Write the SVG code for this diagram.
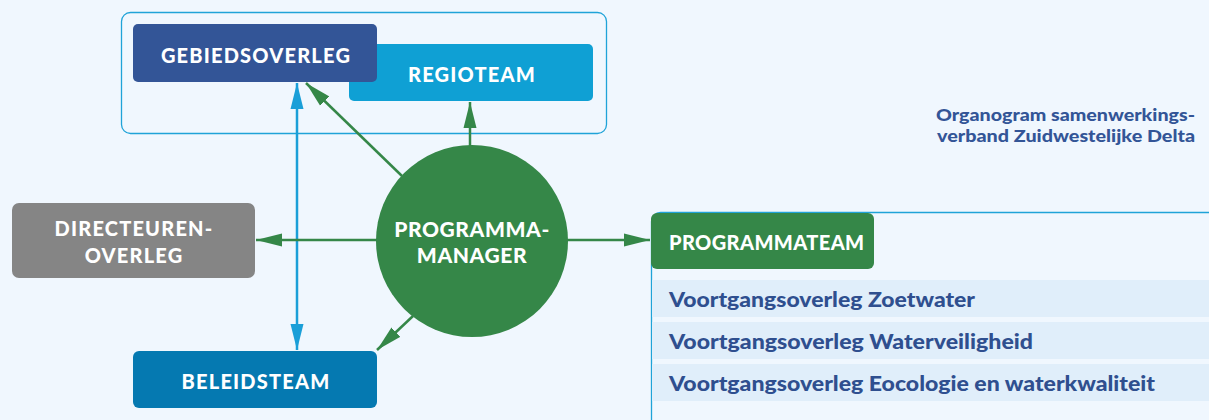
<svg xmlns="http://www.w3.org/2000/svg" width="1209" height="420" viewBox="0 0 1209 420">
<defs>
<style>
.hd{font-family:Lato,"Liberation Sans",sans-serif;font-weight:900;font-size:20px;fill:#fff;text-anchor:middle;letter-spacing:1.2px}
.row{font-family:Lato,"Liberation Sans",sans-serif;font-weight:900;font-size:20px;fill:#2f4f8f}
.g{stroke:#358748;stroke-width:2.5;fill:none}
.b{stroke:#1a9fd8;stroke-width:2.5;fill:none}
.title{font-family:Lato,"Liberation Sans",sans-serif;font-weight:900;font-size:17.5px;fill:#335597;text-anchor:end}
</style>
<marker id="ag" viewBox="0 0 20 10" refX="20" refY="5" markerWidth="10.4" markerHeight="5.6" orient="auto"><path d="M0,0 L20,5 L0,10 z" fill="#358748"/></marker>
<marker id="ab" viewBox="0 0 20 10" refX="20" refY="5" markerWidth="10.4" markerHeight="5.6" orient="auto-start-reverse"><path d="M0,0 L20,5 L0,10 z" fill="#1a9fd8"/></marker>
</defs>
<rect width="1209" height="420" fill="#f0f7fe"/>
<rect x="121.5" y="12.5" width="485" height="121" rx="9" fill="none" stroke="#1fa3d8" stroke-width="1.3"/>
<rect x="651.5" y="212.5" width="570" height="220" rx="9" fill="none" stroke="#1fa3d8" stroke-width="1.3"/>
<g id="connectors">
<line class="b" x1="297" y1="83" x2="297" y2="350" marker-start="url(#ab)" marker-end="url(#ab)"/>
<line class="g" x1="402" y1="176" x2="306" y2="83" marker-end="url(#ag)"/>
<line class="g" x1="470" y1="146" x2="470" y2="102" marker-end="url(#ag)"/>
<line class="g" x1="377" y1="240" x2="256" y2="240" marker-end="url(#ag)"/>
<line class="g" x1="567" y1="240" x2="650" y2="240" marker-end="url(#ag)"/>
<line class="g" x1="413" y1="316" x2="377" y2="350" marker-end="url(#ag)"/>
</g>
<g id="regioteam"><rect x="349" y="44" width="244" height="57" rx="5" fill="#0fa0d4"/><text class="hd" x="472" y="82">REGIOTEAM</text></g>
<g id="gebiedsoverleg"><rect x="133" y="24" width="244" height="58" rx="5" fill="#335597"/><text class="hd" x="256" y="63">GEBIEDSOVERLEG</text></g>
<g id="directeurenoverleg"><rect x="12" y="203" width="243" height="75" rx="7" fill="#858585"/><text class="hd" x="134" y="236">DIRECTEUREN-</text><text class="hd" x="134" y="263">OVERLEG</text></g>
<g id="programmamanager"><circle cx="472" cy="241" r="96" fill="#358748"/><text class="hd" x="472" y="237" style="font-size:21px;letter-spacing:0.6px">PROGRAMMA-</text><text class="hd" x="472" y="263" style="font-size:21px;letter-spacing:0.6px">MANAGER</text></g>
<g id="beleidsteam"><rect x="133" y="351" width="244" height="57" rx="6" fill="#0579b1"/><text class="hd" x="256" y="389">BELEIDSTEAM</text></g>
<g id="programmateam">
<rect x="652" y="280" width="557" height="37" fill="#e0eefa"/>
<rect x="652" y="322" width="557" height="37" fill="#e0eefa"/>
<rect x="652" y="364" width="557" height="37" fill="#e0eefa"/>
<rect x="651" y="213" width="223" height="56" rx="6" fill="#358748"/>
<text class="hd" x="669" y="250" style="text-anchor:start;letter-spacing:0.4px">PROGRAMMATEAM</text>
<text class="row" x="669" y="307" textLength="306" lengthAdjust="spacingAndGlyphs">Voortgangsoverleg Zoetwater</text>
<text class="row" x="669" y="349" textLength="364" lengthAdjust="spacingAndGlyphs">Voortgangsoverleg Waterveiligheid</text>
<text class="row" x="669" y="391" textLength="486" lengthAdjust="spacingAndGlyphs">Voortgangsoverleg Eocologie en waterkwaliteit</text>
</g>
<g id="title"><text class="title" x="1195" y="121" textLength="259" lengthAdjust="spacingAndGlyphs">Organogram samenwerkings-</text><text class="title" x="1195" y="142" textLength="258" lengthAdjust="spacingAndGlyphs">verband Zuidwestelijke Delta</text></g>
</svg>
